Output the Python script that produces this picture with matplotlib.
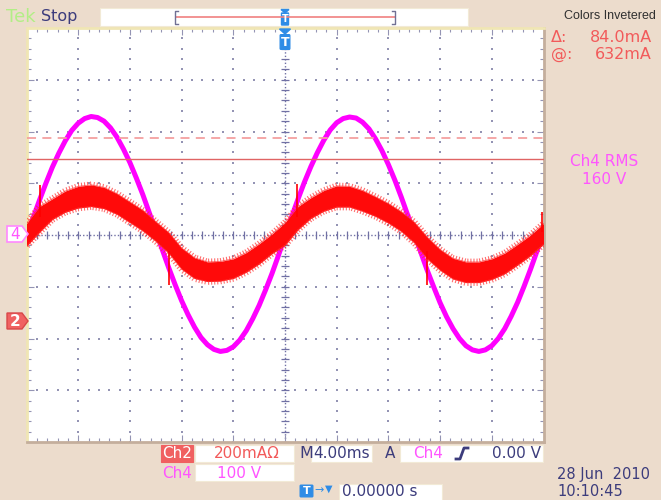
import numpy as np
import matplotlib.pyplot as plt
import matplotlib.patheffects as pe
from matplotlib.patches import Rectangle, Polygon, FancyBboxPatch

# ===============================
# Screen data (in divisions)
# ===============================

# sample positions across the screen: 10 divs, 4 ms/div
t_ch4 = np.arange(0, 10.001, 0.125)
t_ch2 = np.arange(0, 10.001, 0.25)

# Ch4 voltage, 100 V/div
ch4 = [-0.04, 0.32, 0.67, 1.00, 1.31, 1.58, 1.82, 2.02, 2.16, 2.25,
       2.29, 2.27, 2.20, 2.07, 1.89, 1.66, 1.40, 1.10, 0.78, 0.43,
       0.08, -0.28, -0.63, -0.96, -1.27, -1.54, -1.78, -1.98, -2.12, -2.21,
       -2.25, -2.23, -2.16, -2.03, -1.85, -1.62, -1.36, -1.06, -0.74, -0.39,
       -0.02, 0.34, 0.69, 1.02, 1.32, 1.59, 1.83, 2.03, 2.17, 2.25,
       2.28, 2.26, 2.18, 2.05, 1.86, 1.63, 1.36, 1.06, 0.73, 0.38,
       0.03, -0.33, -0.68, -1.00, -1.31, -1.58, -1.81, -2.00, -2.14, -2.22,
       -2.25, -2.22, -2.14, -2.00, -1.81, -1.57, -1.30, -0.99, -0.66, -0.31,
       0.05]

# Ch2 current, 200 mA/div - noisy trace, upper and lower edge of the band
ch2_top = [0.22, 0.55, 0.70, 0.85, 0.94, 0.97, 0.92, 0.80, 0.64, 0.48,
           0.26, 0.05, -0.25, -0.44, -0.52, -0.51, -0.46, -0.34, -0.17, 0.02,
           0.24, 0.55, 0.72, 0.86, 0.95, 0.94, 0.86, 0.74, 0.61, 0.45,
           0.25, -0.04, -0.28, -0.45, -0.52, -0.52, -0.46, -0.35, -0.18, 0.00,
           0.22]
ch2_bot = [-0.22, 0.05, 0.30, 0.44, 0.52, 0.55, 0.51, 0.40, 0.24, 0.08,
           -0.12, -0.35, -0.66, -0.84, -0.90, -0.89, -0.84, -0.72, -0.56, -0.36,
           -0.20, 0.10, 0.32, 0.46, 0.54, 0.54, 0.46, 0.36, 0.23, 0.07,
           -0.15, -0.46, -0.68, -0.85, -0.92, -0.92, -0.86, -0.75, -0.58, -0.40,
           -0.18]

# single glitches on Ch2
glitch_x = [0.26, 2.76, 5.23, 7.75, 9.98]
glitch_from = [0.35, -0.30, 0.35, -0.30, 0.05]
glitch_to = [0.97, -0.97, 0.98, -0.96, 0.44]

# horizontal cursors (Ch2), divisions above centre
cursor_a = 1.88
cursor_b = 1.46

# readouts
delta_txt = "84.0mA"
at_txt = "632mA"
rms_txt = ["Ch4 RMS", "160 V"]

# ===============================
# Colours
# ===============================

BEIGE = '#ecdccc'
NAVY = '#3c3c7c'
RED = '#f25a5a'
MAG = '#ff55ff'
BLUE = '#2f8ce6'
GRID = '#9494b4'

fig = plt.figure(figsize=(6.61, 5.0), dpi=100, facecolor=BEIGE)

# ===============================
# Graticule
# ===============================

ax = fig.add_axes([26.5 / 661, 58 / 500, 517 / 661, 414 / 500], facecolor='white')
ax.set_xlim(0, 10)
ax.set_ylim(-4, 4)

for k in range(1, 10):
    if k != 5:
        ax.scatter(np.full(41, k), np.linspace(-4, 4, 41), s=1.6, marker='s',
                   color=GRID, lw=0, zorder=1)
for j in range(-3, 4):
    if j != 0:
        ax.scatter(np.linspace(0, 10, 51), np.full(51, j), s=1.6, marker='s',
                   color=GRID, lw=0, zorder=1)

ax.axhline(0, color='#7070a4', lw=1.0, ls=(0, (1, 1.5)), zorder=1)
ax.axvline(5, color='#7070a4', lw=1.0, ls=(0, (1, 1.5)), zorder=1)
ax.vlines(np.linspace(0, 10, 51), -0.07, 0.07, color='#7070a4', lw=0.9, zorder=1)
ax.hlines(np.linspace(-4, 4, 41), 4.93, 5.07, color='#7070a4', lw=0.9, zorder=1)

ax.set_xticks(np.arange(0, 11, 1))
ax.set_yticks(np.arange(-4, 5, 1))
ax.set_xticks(np.linspace(0, 10, 51), minor=True)
ax.set_yticks(np.linspace(-4, 4, 41), minor=True)
ax.tick_params(which='both', direction='in', top=True, right=True,
               labelbottom=False, labelleft=False, color=GRID, width=0.8)
ax.tick_params(which='major', length=5)
ax.tick_params(which='minor', length=3)

for side in ['left', 'top']:
    ax.spines[side].set_color('#f0e6b4')
    ax.spines[side].set_linewidth(2)
for side in ['right', 'bottom']:
    ax.spines[side].set_color('#c4ae9c')
    ax.spines[side].set_linewidth(2)

# ===============================
# Traces
# ===============================

ax.plot(t_ch4, ch4, color='#ff00ff', lw=3.6, solid_joinstyle='round', zorder=2)

top = np.array(ch2_top)
bot = np.array(ch2_bot)
ax.fill_between(t_ch2, top, bot, color='#ff0a0a', lw=0, zorder=4)
# ragged edges of the noisy trace
rough = [pe.withTickedStroke(angle=90, spacing=2.2, length=0.9, linewidth=0.8)]
ax.plot(t_ch2, top, color='#ff3030', lw=0.6, alpha=0.7, path_effects=rough, zorder=4)
ax.plot(t_ch2, bot, color='#ff3030', lw=0.6, alpha=0.7,
        path_effects=[pe.withTickedStroke(angle=-90, spacing=2.2, length=0.9, linewidth=0.8)],
        zorder=4)
ax.vlines(glitch_x, glitch_from, glitch_to, color='#ff0000', lw=1.2, zorder=4)

ax.axhline(cursor_a, color='#f4a0a0', lw=1.3, ls=(0, (5, 3.5)), zorder=5)
ax.axhline(cursor_b, color='#e06464', lw=1.0, zorder=5)

# ===============================
# Frame decorations (pixel coords)
# ===============================

ov = fig.add_axes([0, 0, 1, 1], zorder=10)
ov.set_xlim(0, 661)
ov.set_ylim(500, 0)
ov.axis('off')
ov.patch.set_visible(False)


def box(x0, y0, x1, y1, fc='white', ec='#f2ead6'):
    ov.add_patch(Rectangle((x0, y0), x1 - x0, y1 - y0, fc=fc, ec=ec, lw=0.8))


# top bar
ov.text(6, 17, "Tek", color='#b2ee86', fontsize=13, va='center', ha='left')
ov.text(41, 16, "Stop", color=NAVY, fontsize=11.5, va='center', ha='left')
box(100, 8, 468, 26)
ov.plot([176, 395], [17, 17], color='#f08080', lw=1.2)
ov.plot([178, 175, 175, 178], [11, 11, 24, 24], color='#707094', lw=1)
ov.plot([392, 395, 395, 392], [11, 11, 24, 24], color='#707094', lw=1)
ov.add_patch(Polygon([(281, 9.5), (289, 9.5), (285, 13)], color=BLUE))
ov.add_patch(FancyBboxPatch((282, 13.5), 6, 11, boxstyle='round,pad=0.5', color=BLUE))
ov.text(285, 19.5, "T", color='white', fontsize=7, ha='center', va='center', weight='bold')
ov.add_patch(Polygon([(279.5, 29), (290.5, 29), (285, 34)], color=BLUE))
ov.add_patch(FancyBboxPatch((281, 35.5), 8, 13, boxstyle='round,pad=0.8', color=BLUE))
ov.text(285, 42.5, "T", color='white', fontsize=9, ha='center', va='center', weight='bold')

# right panel
ov.text(656, 16, "Colors Invetered", color='#303030', fontsize=9,
        family='Liberation Sans', ha='right', va='center')
ov.text(551, 37.5, "\u0394:", color=RED, fontsize=11.5, ha='left', va='center')
ov.text(652, 37.5, delta_txt, color=RED, fontsize=11.5, ha='right', va='center')
ov.text(551, 54.5, "@:", color=RED, fontsize=11.5, ha='left', va='center')
ov.text(652, 54.5, at_txt, color=RED, fontsize=11.5, ha='right', va='center')
ov.text(604, 162, rms_txt[0], color=MAG, fontsize=11, ha='center', va='center')
ov.text(604, 180, rms_txt[1], color=MAG, fontsize=11, ha='center', va='center')

# channel level markers
ov.add_patch(Polygon([(7, 226), (22, 226), (28, 234), (22, 242), (7, 242)],
                     fc='white', ec='#ff88ff', lw=1.2))
ov.text(15, 234.5, "4", color=MAG, fontsize=11, ha='center', va='center')
ov.add_patch(Polygon([(7, 313), (22, 313), (28, 321), (22, 329), (7, 329)],
                     fc='#f06262', ec='#d84848', lw=1))
ov.text(15, 321.5, "2", color='white', fontsize=11, ha='center', va='center', weight='bold')

# bottom readouts
box(161, 445, 193, 462, fc='#f06060', ec='#f06060')
ov.text(177, 454, "Ch2", color='white', fontsize=11, ha='center', va='center')
box(195, 445, 294, 462)
ov.text(247, 454, "200mA\u03a9", color=RED, fontsize=11, ha='center', va='center')
ov.text(306, 454, "M", color=NAVY, fontsize=11.5, ha='center', va='center')
box(311, 445, 372, 462)
ov.text(313, 454, "4.00ms", color=NAVY, fontsize=11, ha='left', va='center')
ov.text(390, 454, "A", color=NAVY, fontsize=11, ha='center', va='center')
box(400, 445, 543, 462)
ov.text(413, 454, "Ch4", color=MAG, fontsize=11, ha='left', va='center')
ov.plot([456, 460, 464, 468], [459, 459, 448, 448], color=NAVY, lw=2)
ov.text(541, 454, "0.00 V", color=NAVY, fontsize=11, ha='right', va='center')

ov.text(177, 473, "Ch4", color=MAG, fontsize=11, ha='center', va='center')
box(195, 464, 294, 481)
ov.text(217, 473, "100 V", color=MAG, fontsize=11, ha='left', va='center')

ov.add_patch(FancyBboxPatch((301, 486), 11, 10, boxstyle='round,pad=0.8', color=BLUE))
ov.text(306.5, 491, "T", color='white', fontsize=8, ha='center', va='center', weight='bold')
ov.text(319, 490, "\u2192", color=BLUE, fontsize=8, ha='center', va='center')
ov.text(329, 489, "\u25bc", color=BLUE, fontsize=7, ha='center', va='center')
box(339, 484, 442, 502)
ov.text(342, 492, "0.00000 s", color=NAVY, fontsize=11, ha='left', va='center')

ov.text(557, 474, "28 Jun  2010", color=NAVY, fontsize=10.5, ha='left', va='center')
ov.text(557, 492, "10:10:45", color=NAVY, fontsize=10.5, ha='left', va='center')

fig.savefig("out.png", dpi=100, facecolor=BEIGE)
